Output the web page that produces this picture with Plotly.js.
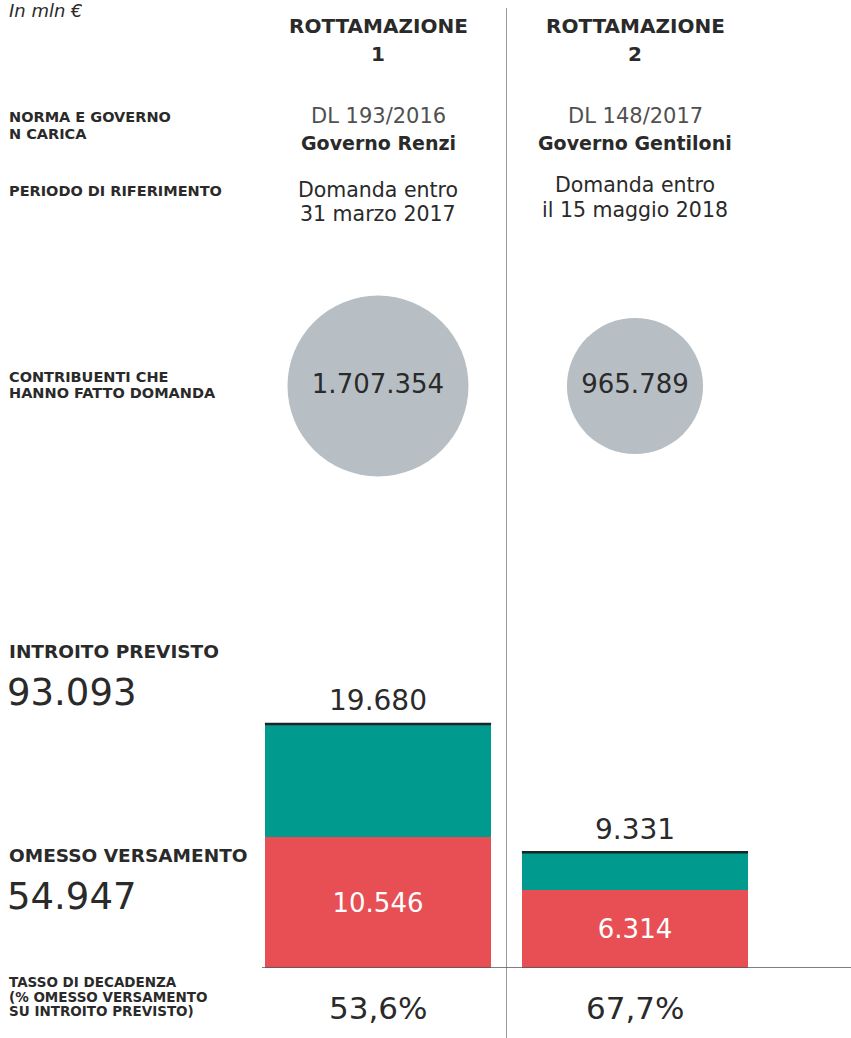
<!DOCTYPE html>
<html><head><meta charset="utf-8">
<script src="https://cdn.plot.ly/plotly-3.0.1.min.js"></script>
<style>html,body{margin:0;padding:0;background:#fff;}#chart{width:851px;height:1038px;}</style>
</head><body><div id="chart"></div>
<script>
// ---- data ----
const categories = ["ROTTAMAZIONE", "ROTTAMAZIONE"];
const categoryNumbers = ["1", "2"];
const norma = ["DL 193/2016", "DL 148/2017"];
const governo = ["Governo Renzi", "Governo Gentiloni"];
const periodoLine1 = ["Domanda entro", "Domanda entro"];
const periodoLine2 = ["31 marzo 2017", "il 15 maggio 2018"];
const contribuenti = [1707354, 965789];
const contribuentiLabels = ["1.707.354", "965.789"];
const introito = [19680, 9331];
const introitoLabels = ["19.680", "9.331"];
const omesso = [10546, 6314];
const omessoLabels = ["10.546", "6.314"];
const tasso = ["53,6%", "67,7%"];
const totIntroito = "93.093";
const totOmesso = "54.947";
const rowLabels = {
  norma: ["NORMA E GOVERNO", "N CARICA"],
  periodo: ["PERIODO DI RIFERIMENTO"],
  contribuenti: ["CONTRIBUENTI CHE", "HANNO FATTO DOMANDA"],
  introito: ["INTROITO PREVISTO"],
  omesso: ["OMESSO VERSAMENTO"],
  tasso: ["TASSO DI DECADENZA", "(% OMESSO VERSAMENTO", "SU INTROITO PREVISTO)"]
};

// ---- styles ----
const FONT = "DejaVu Sans, Verdana, sans-serif";
const DARK = "#2a2a2a";
const MID = "#505050";
const TEAL = "#009a8f";
const RED = "#e84f55";
const GREY = "#b7bfc5";
const H = 1038, W = 851;
const py = p => 1 - p / H;
const idx = categories.map((c, i) => i);
const resto = introito.map((v, i) => v - omesso[i]);
const BW = 0.88;
const CIRCLE_MAX = 181;

const traces = [
  {type: "bar", x: idx, y: omesso, marker: {color: RED, line: {width: 0}}, width: BW,
   text: omessoLabels, textposition: "inside", insidetextanchor: "middle",
   textfont: {color: "#fff", size: 26, family: FONT}, hoverinfo: "skip", xaxis: "x", yaxis: "y"},
  {type: "bar", x: idx, y: resto, marker: {color: TEAL, line: {width: 0}}, width: BW,
   hoverinfo: "skip", xaxis: "x", yaxis: "y"},
  {type: "scatter", mode: "markers+text", x: idx, y: idx.map(() => 0), cliponaxis: false,
   marker: {size: contribuenti, sizemode: "area", sizeref: 2 * contribuenti[0] / (CIRCLE_MAX * CIRCLE_MAX), color: GREY, opacity: 1, line: {width: 0}},
   text: contribuentiLabels, textposition: "middle center",
   textfont: {size: 26, color: DARK, family: FONT}, hoverinfo: "skip", xaxis: "x", yaxis: "y2"}
];

const ann = [];
const add = (o) => ann.push(Object.assign({showarrow: false, xanchor: "center", yanchor: "middle", borderpad: 0}, o));
const colText = (arr, i, yp, size, color, bold) => add({text: bold ? "<b>" + arr[i] + "</b>" : arr[i], xref: "x", yref: "paper", x: i, y: py(yp), font: {family: FONT, size: size, color: color}});
const leftText = (lines, y0, dy, size) => lines.forEach((t, k) => add({text: "<b>" + t + "</b>", xref: "paper", yref: "paper", x: 8 / W, y: py(y0 + k * dy), xanchor: "left", font: {family: FONT, size: size, color: DARK}}));

// top-left note
add({text: "<i>In mln €</i>", xref: "paper", yref: "paper", x: 8 / W, y: py(11), xanchor: "left", font: {family: FONT, size: 18, color: DARK}});

// column headers and info
const perY1 = [190, 185], perY2 = [214, 210];
idx.forEach(i => {
  colText(categories, i, 26, 20, DARK, true);
  colText(categoryNumbers, i, 54, 20, DARK, true);
  colText(norma, i, 116, 21, MID, false);
  colText(governo, i, 143, 19, DARK, true);
  colText(periodoLine1, i, perY1[i], 20.5, DARK, false);
  colText(periodoLine2, i, perY2[i], 20.5, DARK, false);
  add({text: introitoLabels[i], xref: "x", yref: "y", x: i, y: introito[i], yshift: 23, font: {family: FONT, size: 28, color: DARK}});
  colText(tasso, i, 1008, 31, DARK, false);
});

// left labels
leftText(rowLabels.norma, 117, 16.5, 14.5);
leftText(rowLabels.periodo, 191, 0, 14.5);
leftText(rowLabels.contribuenti, 377, 16, 14.5);
leftText(rowLabels.introito, 651, 0, 18.5);
add({text: totIntroito, xref: "paper", yref: "paper", x: 6 / W, y: py(692), xanchor: "left", font: {family: FONT, size: 37, color: DARK}});
leftText(rowLabels.omesso, 855, 0, 18.5);
add({text: totOmesso, xref: "paper", yref: "paper", x: 6 / W, y: py(896), xanchor: "left", font: {family: FONT, size: 37, color: DARK}});
leftText(rowLabels.tasso, 982, 14.5, 13.5);

// shapes
const shapes = [
  {type: "line", xref: "x", yref: "paper", x0: 0.5, x1: 0.5, y0: 0, y1: py(8), line: {color: "#9a9a9a", width: 1}},
  {type: "line", xref: "paper", yref: "y", x0: 262 / W, x1: 1, y0: 0, y1: 0, line: {color: "#555", width: 1.5}}
];
idx.forEach(i => shapes.push({type: "line", xref: "x", yref: "y", x0: i - BW / 2, x1: i + BW / 2, y0: introito[i], y1: introito[i], line: {color: "#1a2626", width: 2.5}}));

const layout = {
  width: W, height: H, margin: {l: 0, r: 0, t: 0, b: 0},
  paper_bgcolor: "#fff", plot_bgcolor: "rgba(0,0,0,0)",
  showlegend: false, barmode: "stack", bargap: 0,
  font: {family: FONT, color: DARK},
  xaxis: {domain: [249.5 / W, 763.5 / W], range: [-0.5, 1.5], visible: false, fixedrange: true},
  yaxis: {domain: [(H - 968) / H, (H - 600) / H], range: [0, 29680], visible: false, fixedrange: true},
  yaxis2: {domain: [(H - 486) / H, (H - 286) / H], range: [-1, 1], visible: false, fixedrange: true, anchor: "x"},
  annotations: ann, shapes: shapes
};

Plotly.newPlot("chart", traces, layout, {staticPlot: true, displayModeBar: false});
</script></body></html>
